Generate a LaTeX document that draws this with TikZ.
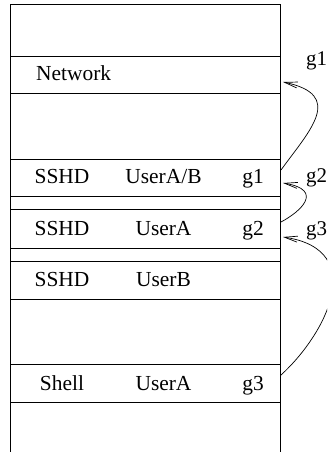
\documentclass[tikz,border=0pt]{standalone}
\usepackage{fontspec}
\setmainfont{Liberation Serif}
\usetikzlibrary{arrows.meta}
\begin{document}
\begin{tikzpicture}[x=1bp,y=-1bp,
  frame/.style={line width=0.9bp, draw=black},
  rowbox/.style={draw=black, line width=0.9bp, minimum width=270bp, inner sep=0pt, outer sep=0pt},
  lbl/.style={inner sep=0pt, anchor=base, font=\fontsize{21.5}{25}\selectfont},
  glbl/.style={inner sep=0pt, anchor=base west, font=\fontsize{21}{25}\selectfont},
  link/.style={line width=0.7bp, -{Straight Barb[length=13bp,width=6bp,line width=0.7bp]}}]
\useasboundingbox (0,0) rectangle (327,452);
\clip (0,0) rectangle (327,452);
% outer frame
\coordinate (fbl) at (10,452);
\coordinate (ftl) at (10,4);
\coordinate (ftr) at (280,4);
\coordinate (fbr) at (280,452);
\draw[frame] (fbl) -- (ftl) -- (ftr) -- (fbr);
% rows
\node[rowbox, minimum height=37bp] (net) at (145,74.5) {};
\node[rowbox, minimum height=37bp] (rab) at (145,177.5) {};
\node[rowbox, minimum height=39bp] (ra) at (145,228.5) {};
\node[rowbox, minimum height=38bp] (rb) at (145,280) {};
\node[rowbox, minimum height=38bp] (rs) at (145,383) {};
% texts
\node[lbl, anchor=base west] (tnet) at (36,81) {Network};
\node[lbl] (tab1) at (62,183.5) {SSHD};
\node[lbl] (tab2) at (163.5,183.5) {UserA/B};
\node[lbl] (tab3) at (253,183.5) {g1};
\node[lbl] (ta1) at (62,235.5) {SSHD};
\node[lbl] (ta2) at (163.5,235.5) {UserA};
\node[lbl] (ta3) at (253,235.5) {g2};
\node[lbl] (tb1) at (62,286.5) {SSHD};
\node[lbl] (tb2) at (163.5,286.5) {UserB};
\node[lbl] (ts1) at (62,390) {Shell};
\node[lbl] (ts2) at (163.5,390) {UserA};
\node[lbl] (ts3) at (253,390) {g3};
% side labels
\node[glbl] (lg1) at (306,66) {g1};
\node[glbl] (lg2) at (306,182.5) {g2};
\node[glbl] (lg3) at (306,235.5) {g3};
% connectors
\coordinate (s1) at (281,170);
\coordinate (e1) at (283,82);
\coordinate (s2) at (281,222);
\coordinate (e2) at (283,183);
\coordinate (s3) at (281,375);
\coordinate (e3) at (283,237);
\draw[link] (s1) .. controls (310,130) and (345,95) .. (e1);
\draw[link] (s2) .. controls (300,212) and (325,190) .. (e2);
\draw[link] (s3) .. controls (325,335) and (370,250) .. (e3);
\end{tikzpicture}
\end{document}
